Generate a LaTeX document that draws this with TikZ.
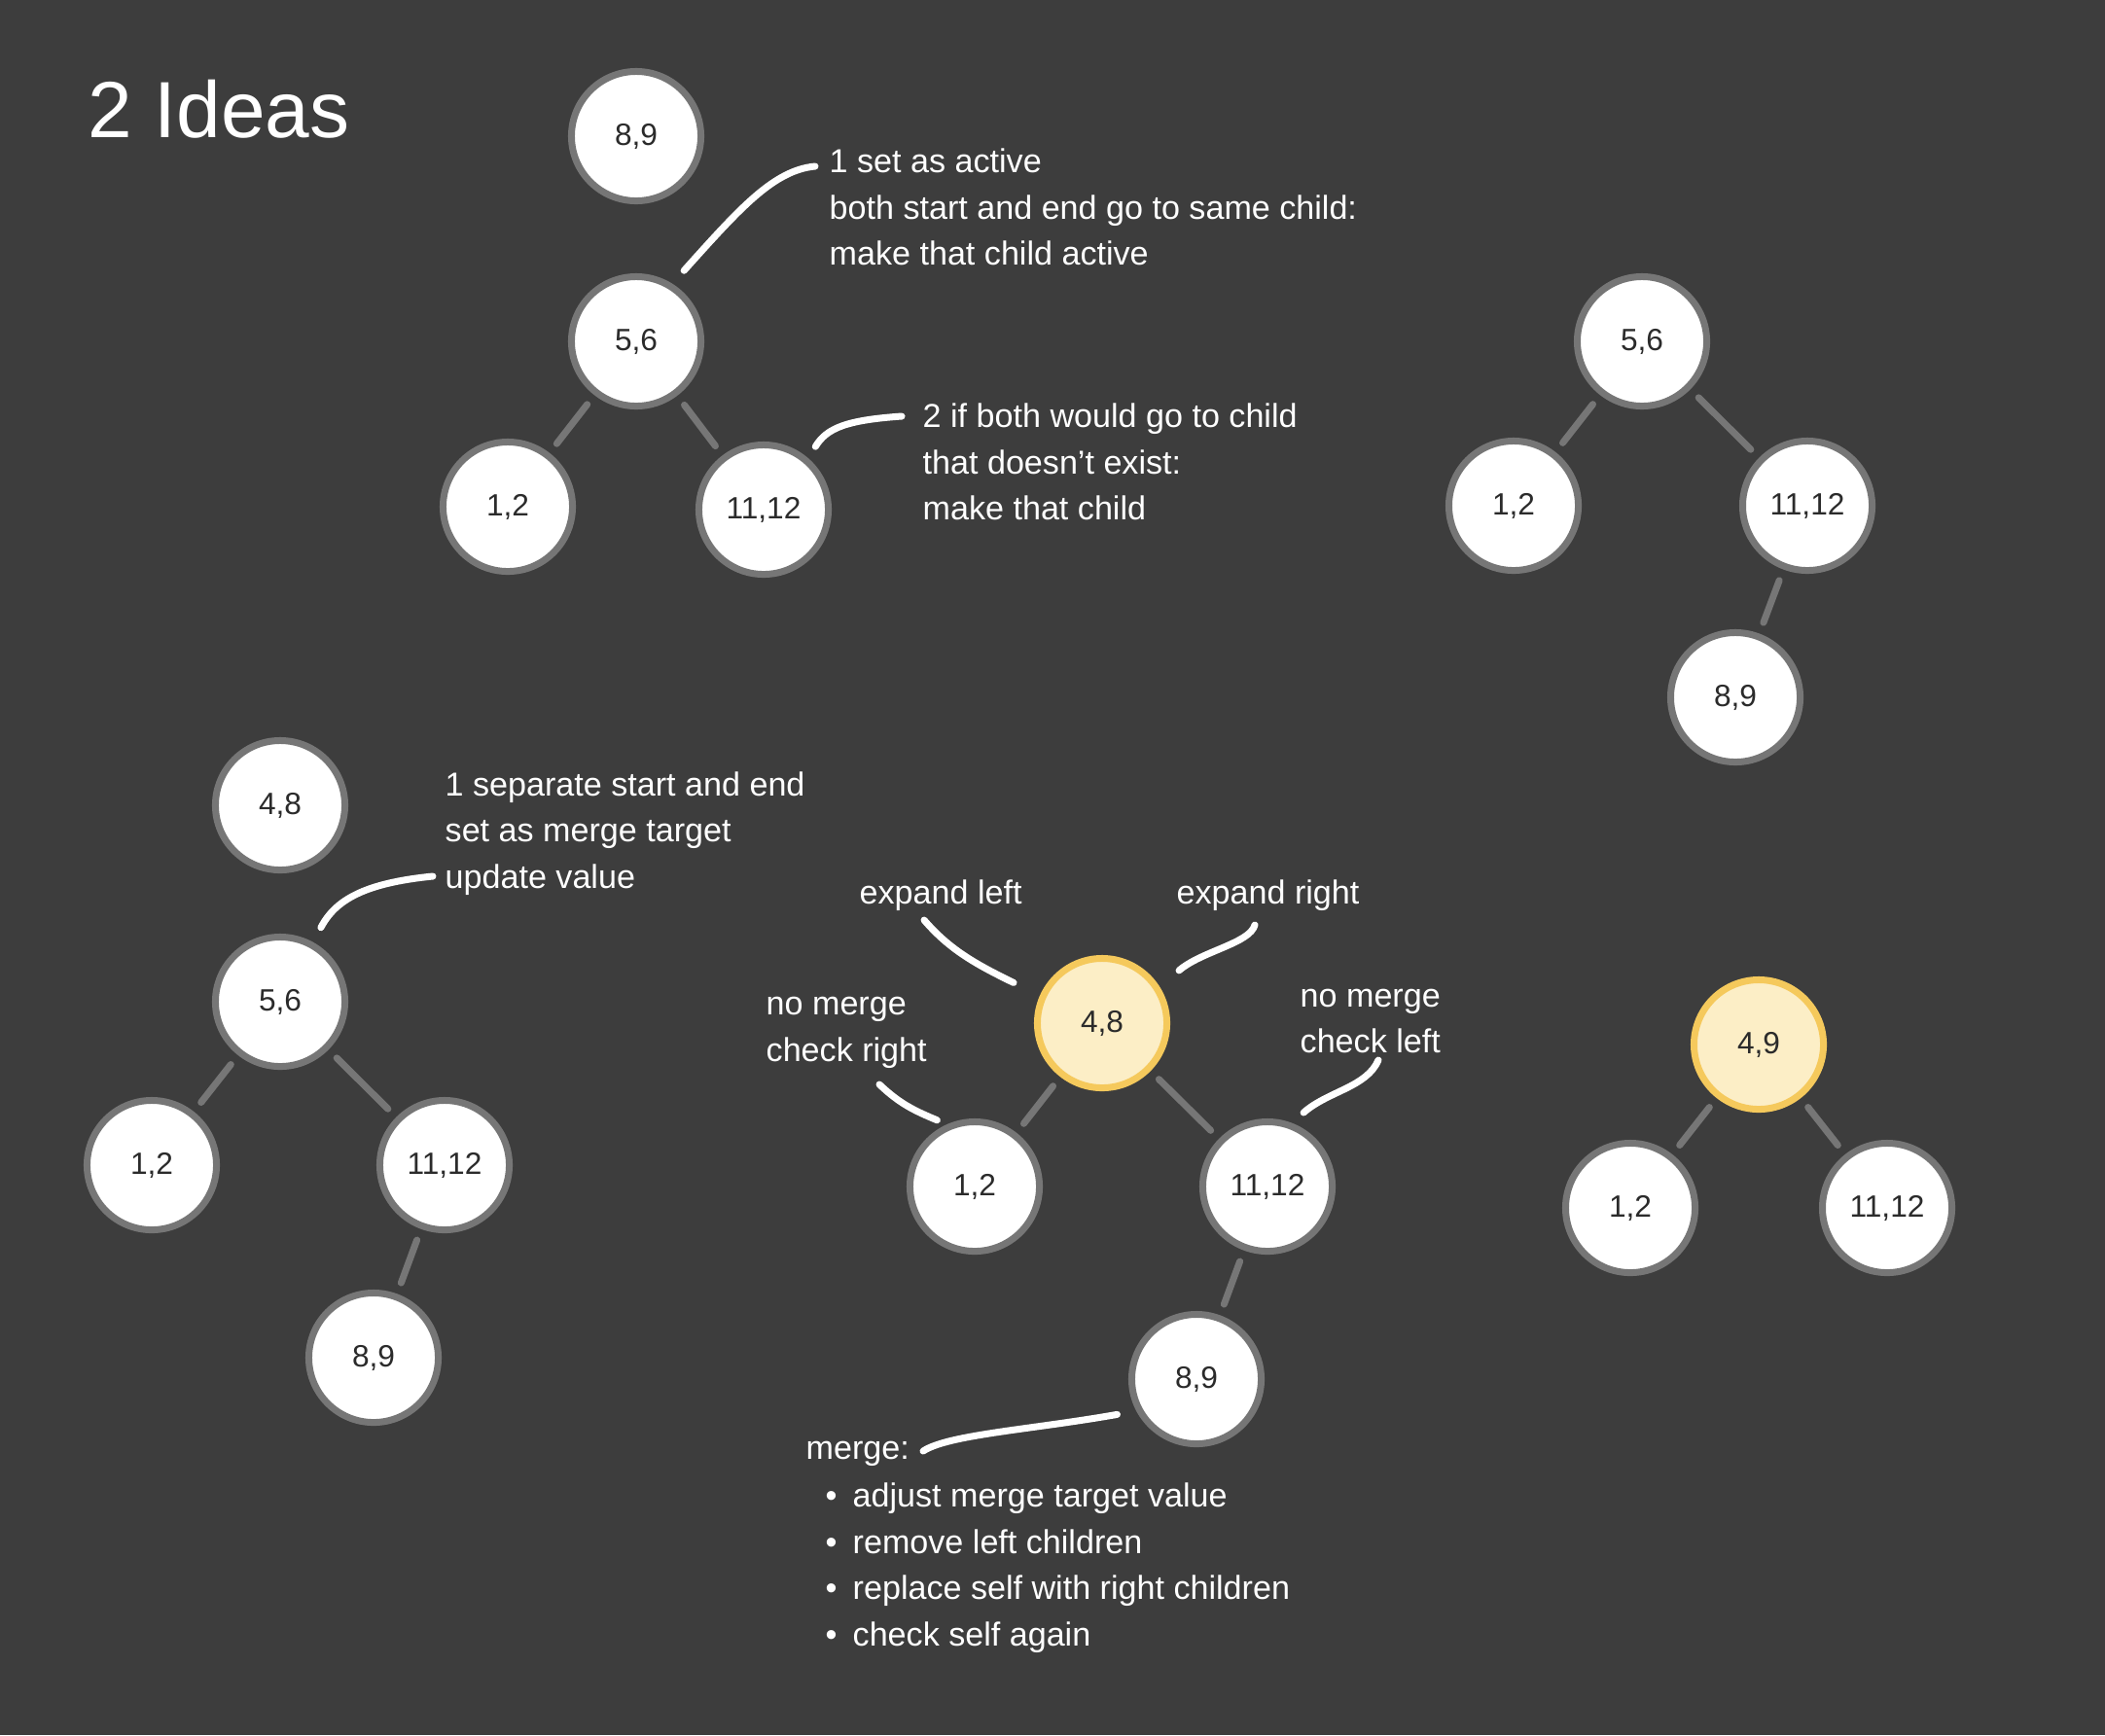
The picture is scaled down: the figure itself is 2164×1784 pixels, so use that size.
\documentclass[tikz,border=0pt]{standalone}
\usepackage{fontspec}
\setmainfont{Liberation Sans}

\definecolor{bggray}{HTML}{3D3D3D}
\definecolor{rimgray}{HTML}{767676}
\definecolor{rimyellow}{HTML}{F5C95C}
\definecolor{fillyellow}{HTML}{FCEEC6}
\definecolor{labelgray}{HTML}{2B2B2B}

\newcommand{\stepitem}{\makebox[0.28cm][l]{\textbullet}}

\tikzset{
	treenode/.style={circle, draw=rimgray, line width=0.07cm, fill=white,
		minimum size=1.33cm, inner sep=0pt, text=labelgray,
		font=\fontsize{9}{10}\selectfont},
	activenode/.style={treenode, draw=rimyellow, fill=fillyellow},
	branch/.style={rimgray, line width=0.07cm, line cap=round,
		shorten <=0.12cm, shorten >=0.12cm},
	note/.style={white, line width=0.07cm, line cap=round},
	notetext/.style={text=white, align=left, anchor=west, inner sep=0pt,
		font=\fontsize{9.7}{13.5}\selectfont},
}

\begin{document}
\begin{tikzpicture}[x=0.01cm, y=-0.01cm]
		\fill[bggray] (0,0) rectangle (2164,1784);
		\node[anchor=base west, inner sep=0pt, text=white, font=\fontsize{23.3}{28}\selectfont] (title) at (90,141) {2 Ideas};
		%
		% first tree: set as active
		\node[treenode] (a89) at (654,140) {8,9};
		\node[treenode] (a56) at (654,351) {5,6};
		\node[treenode] (a12) at (522,521) {1,2};
		\node[treenode] (a1112) at (785,524) {11,12};
		\draw[branch] (a56) -- (a12);
		\draw[branch] (a56) -- (a1112);
		\node[notetext] (activenote) at (852,213) {1 set as active\\both start and end go to same child:\\make that child active};
		\node[notetext] (childnote) at (948,475) {2 if both would go to child\\that doesn’t exist:\\make that child};
		\coordinate (n1) at (838,171);
		\coordinate (n2) at (927,428);
		\draw[note, shorten >=0.18cm] (n1) .. controls (795,175) and (760,215) .. (a56.58);
		\draw[note, shorten >=0.14cm] (n2) .. controls (870,432) and (850,440) .. (a1112.49);
		%
		% second tree: result
		\node[treenode] (b56) at (1688,351) {5,6};
		\node[treenode] (b12) at (1556,520) {1,2};
		\node[treenode] (b1112) at (1858,520) {11,12};
		\node[treenode] (b89) at (1784,717) {8,9};
		\draw[branch] (b56) -- (b12);
		\draw[branch] (b56) -- (b1112);
		\draw[branch] (b1112) -- (b89);
		%
		% third tree: separate start and end
		\node[treenode] (c48) at (288,828) {4,8};
		\node[treenode] (c56) at (288,1030) {5,6};
		\node[treenode] (c12) at (156,1198) {1,2};
		\node[treenode] (c1112) at (457,1198) {11,12};
		\node[treenode] (c89) at (384,1396) {8,9};
		\draw[branch] (c56) -- (c12);
		\draw[branch] (c56) -- (c1112);
		\draw[branch] (c1112) -- (c89);
		\node[notetext] (sepnote) at (457,857) {1 separate start and end\\set as merge target\\update value};
		\coordinate (n3) at (445,901);
		\draw[note, shorten >=0.17cm] (n3) .. controls (375,908) and (345,925) .. (c56.61);
		%
		% fourth tree: expand and merge
		\node[activenode] (d48) at (1133,1052) {4,8};
		\node[treenode] (d12) at (1002,1220) {1,2};
		\node[treenode] (d1112) at (1303,1220) {11,12};
		\node[treenode] (d89) at (1230,1418) {8,9};
		\draw[branch] (d48) -- (d12);
		\draw[branch] (d48) -- (d1112);
		\draw[branch] (d1112) -- (d89);
		\node[notetext] (leftnote) at (883,921) {expand left};
		\node[notetext] (rightnote) at (1209,921) {expand right};
		\node[notetext] (nomergeR) at (787,1062) {no merge\\check right};
		\node[notetext] (nomergeL) at (1336,1050) {no merge\\check left};
		\node[notetext] (mergenote) at (828,1495) {merge:};
		\node[notetext] (mergesteps) at (848,1612) {\stepitem adjust merge target value\\\stepitem remove left children\\\stepitem replace self with right children\\\stepitem check self again};
		\coordinate (n4) at (950,946);
		\coordinate (n5) at (1290,951);
		\coordinate (n6) at (904,1115);
		\coordinate (n7) at (1417,1090);
		\coordinate (n8) at (949,1492);
		\draw[note, shorten >=0.30cm] (n4) .. controls (975,975) and (1000,990) .. (d48.156);
		\draw[note, shorten >=0.26cm] (n5) .. controls (1285,970) and (1235,978) .. (d48.32);
		\draw[note, shorten >=0.11cm] (n6) .. controls (925,1135) and (940,1142) .. (d12.114);
		\draw[note, shorten >=0.16cm] (n7) .. controls (1405,1118) and (1365,1122) .. (d1112.69);
		\draw[note, shorten >=0.20cm] (n8) .. controls (975,1475) and (1060,1470) .. (d89.208);
		%
		% fifth tree: merged
		\node[activenode] (e49) at (1808,1074) {4,9};
		\node[treenode] (e12) at (1676,1242) {1,2};
		\node[treenode] (e1112) at (1940,1242) {11,12};
		\draw[branch] (e49) -- (e12);
		\draw[branch] (e49) -- (e1112);
	\end{tikzpicture}
\end{document}
